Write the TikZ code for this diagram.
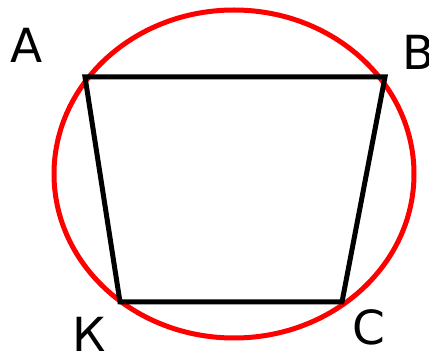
\documentclass[tikz,border=0pt]{standalone}
\usepackage{fontspec}
\setmainfont{DejaVu Sans}
\begin{document}
\begin{tikzpicture}[x=1pt,y=-1pt,
  lbl/.style={inner sep=0pt,anchor=base west,font=\fontsize{47}{50}\selectfont},
  side/.style={line width=5pt,black,line join=miter},
  circ/.style={line width=5pt,red}]
\useasboundingbox (0,0) rectangle (429,355);
\draw[circ] (234,174) ellipse [x radius=180, y radius=164];
\coordinate (A) at (85,77);
\coordinate (B) at (385,77);
\coordinate (C) at (342,302);
\coordinate (K) at (120,302);
\draw[side] (A) -- (B) -- (C) -- (K) -- cycle;
\node[lbl] (la) at (10,63) {A};
\node[lbl] (lb) at (402,70) {B};
\node[lbl] (lk) at (72,352) {К};
\node[lbl] (lc) at (352,345) {C};
\end{tikzpicture}
\end{document}
